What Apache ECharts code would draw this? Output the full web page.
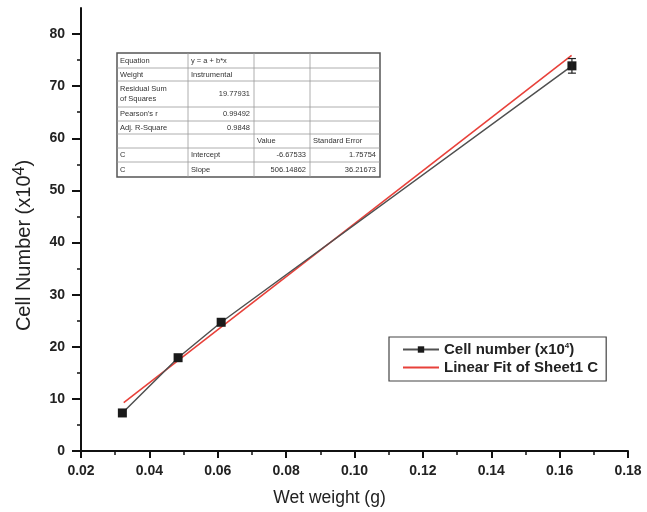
<!DOCTYPE html>
<html><head><meta charset="utf-8">
<script src="https://cdn.jsdelivr.net/npm/echarts@6/dist/echarts.min.js"></script>
<style>html,body{margin:0;padding:0;background:#fff}#c{width:647px;height:512px}</style>
</head><body><div id="c"></div>
<script>
// data
const wetWeight = [0.0321, 0.0484, 0.0610, 0.1636];
const cellNumber = [7.3, 17.9, 24.7, 73.9];
const errLow = [null, null, null, 72.5];
const errHigh = [null, null, null, 75.3];
const fitX = [0.0325, 0.1635];
const fitY = [9.3, 75.9];
const xTicks = [0.02, 0.04, 0.06, 0.08, 0.10, 0.12, 0.14, 0.16, 0.18];
const yTicks = [0, 10, 20, 30, 40, 50, 60, 70, 80];
const tableRows = [
  ["Equation", "y = a + b*x", "", ""],
  ["Weight", "Instrumental", "", ""],
  ["Residual Sum\nof Squares", "19.77931", "", ""],
  ["Pearson's r", "0.99492", "", ""],
  ["Adj. R-Square", "0.9848", "", ""],
  ["", "", "Value", "Standard Error"],
  ["C", "Intercept", "-6.67533", "1.75754"],
  ["C", "Slope", "506.14862", "36.21673"]
];

const chart = echarts.init(document.getElementById('c'));
const FONT = '"Liberation Sans", Arial, sans-serif';

// table graphics
const tX = [117, 188, 254, 310, 380];
const tY = [53, 68, 81, 107, 121, 134, 148, 162, 177];
const g = [];
g.push({type:'rect', shape:{x:tX[0], y:tY[0], width:tX[4]-tX[0], height:tY[8]-tY[0]},
  style:{fill:'#fff', stroke:'#555', lineWidth:1.5}, z:10});
for (let i=1;i<tY.length-1;i++) g.push({type:'line', shape:{x1:tX[0],y1:tY[i],x2:tX[4],y2:tY[i]}, style:{stroke:'#999',lineWidth:0.8}, z:11});
for (let j=1;j<tX.length-1;j++) g.push({type:'line', shape:{x1:tX[j],y1:tY[0],x2:tX[j],y2:tY[8]}, style:{stroke:'#999',lineWidth:0.8}, z:11});
const isNum = s => /^-?[0-9.]+$/.test(s);
tableRows.forEach((row, i) => {
  row.forEach((txt, j) => {
    if (!txt) return;
    const right = isNum(txt);
    const cy = (tY[i] + tY[i+1]) / 2;
    g.push({type:'text', z:12,
      x: right ? tX[j+1]-4 : tX[j]+3, y: cy,
      style:{text:txt, fill:'#333', font:'7.5px ' + FONT,
        align: right ? 'right' : 'left', verticalAlign:'middle', lineHeight:10}});
  });
});

chart.setOption({
  animation:false,
  backgroundColor:'#fff',
  grid:{left:81, right:19, top:8, bottom:61},
  legend:{
    orient:'vertical', left:389, top:337,
    backgroundColor:'#fff', borderColor:'#444', borderWidth:1.2,
    padding:[5,8,6,13], itemGap:3, itemWidth:36, itemHeight:8,
    textStyle:{fontFamily:FONT, fontWeight:'bold', fontSize:15, color:'#222',
      rich:{sup:{fontSize:8, verticalAlign:'top', fontWeight:'bold', padding:[0,0,7,0]}}},
    formatter: n => n === 'Cell number' ? 'Cell number (x10{sup|4})' : n,
    data:[{name:'Cell number'},{name:'Linear Fit of Sheet1 C', itemStyle:{opacity:0}}]
  },
  xAxis:{
    type:'value', min:0.02, max:0.18, interval:0.02,
    name:'Wet weight (g)', nameLocation:'middle', nameGap:38,
    nameTextStyle:{fontFamily:FONT, fontSize:17.5, color:'#222', padding:[0,50,0,0]},
    axisLine:{lineStyle:{color:'#111', width:2}},
    axisTick:{inside:false, length:7, lineStyle:{width:2, color:'#111'}},
    minorTick:{show:true, splitNumber:2, length:4, lineStyle:{width:1.5, color:'#111'}},
    splitLine:{show:false},
    axisLabel:{fontFamily:FONT, fontWeight:'bold', fontSize:14, color:'#222', margin:13,
      formatter: v => v.toFixed(2)}
  },
  yAxis:{
    type:'value', min:0, max:85, interval:10,
    name:'Cell Number (x10{sup|4})', nameLocation:'middle', nameGap:44, nameRotate:90,
    nameTextStyle:{fontFamily:FONT, fontSize:20, color:'#222', padding:[0,32,0,0],
      rich:{sup:{fontSize:16, verticalAlign:'top', padding:[0,0,9,0], color:'#222'}}},
    axisLine:{lineStyle:{color:'#111', width:2}},
    axisTick:{inside:false, length:9, customValues: yTicks, lineStyle:{width:2, color:'#111'}},
    minorTick:{show:true, splitNumber:2, length:4, lineStyle:{width:1.5, color:'#111'}},
    splitLine:{show:false},
    axisLabel:{fontFamily:FONT, fontWeight:'bold', fontSize:14, color:'#222', margin:16,
      customValues: yTicks}
  },
  series:[
    {name:'Linear Fit of Sheet1 C', type:'line', data: fitX.map((x,i)=>[x, fitY[i]]),
      symbol:'none', lineStyle:{color:'#e8413a', width:1.6}, itemStyle:{color:'#e8413a'}, z:3},
    {name:'Cell number', type:'line', data: wetWeight.map((x,i)=>[x, cellNumber[i]]),
      symbol:'rect', symbolSize:9, lineStyle:{color:'#505050', width:1.5}, itemStyle:{color:'#1a1a1a'}, z:4},
    {name:'err', type:'custom', z:5,
      data: wetWeight.map((x,i)=>[x, errLow[i], errHigh[i]]).filter(d=>d[1]!=null),
      renderItem:(params, api) => {
        const lo = api.coord([api.value(0), api.value(1)]);
        const hi = api.coord([api.value(0), api.value(2)]);
        const w = 4;
        const st = {stroke:'#222', lineWidth:1.2};
        return {type:'group', children:[
          {type:'line', shape:{x1:lo[0],y1:lo[1],x2:hi[0],y2:hi[1]}, style:st},
          {type:'line', shape:{x1:lo[0]-w,y1:lo[1],x2:lo[0]+w,y2:lo[1]}, style:st},
          {type:'line', shape:{x1:hi[0]-w,y1:hi[1],x2:hi[0]+w,y2:hi[1]}, style:st}
        ]};
      }}
  ],
  graphic: g
});
</script></body></html>
